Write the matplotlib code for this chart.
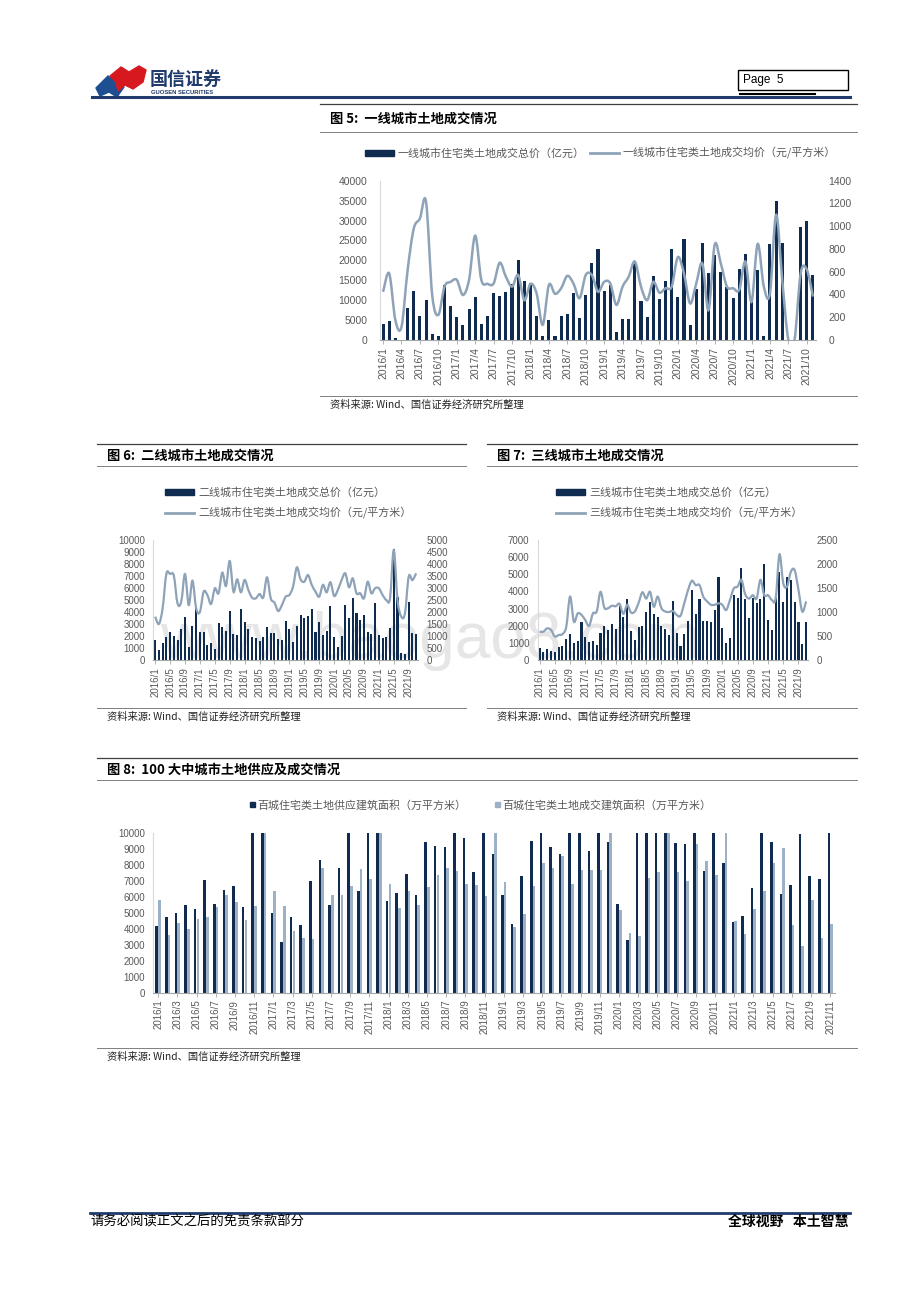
import numpy as np
import matplotlib
matplotlib.use("Agg")
import matplotlib.pyplot as plt
from matplotlib.path import Path
from matplotlib.patches import PathPatch, Rectangle, Polygon

plt.rcParams['font.family'] = ['Noto Sans CJK SC', 'DejaVu Sans']

W, H = 920, 1302
NAVY = '#0f2b50'
LINE = '#8ea3b8'
LIGHT = '#9db1c6'
TXT = '#595959'
NUM = 'Liberation Sans'

# month categories 2016/1 .. 2021/11
months = [f"{y}/{m}" for y in range(2016, 2022) for m in range(1, 13)][:71]

# 图5 一线城市
tier1_total = [140, 165, 18, 0, 280, 430, 210, 350, 52, 32,
               480, 298, 203, 130, 273, 378, 144, 210, 413, 389,
               420, 490, 704, 522, 500, 207, 35, 175, 32, 210,
               228, 413, 193, 392, 674, 800, 430, 483, 73, 182,
               182, 688, 343, 202, 565, 363, 518, 800, 378, 885,
               129, 448, 850, 592, 744, 595, 466, 366, 624, 756,
               366, 615, 35, 846, 1221, 852, 0, 0, 996, 1049, 568]
tier1_price = [12100, 16700, 5000, 3300, 17600, 28000, 30500, 34700, 11300, 6300,
               13400, 14600, 15100, 11300, 15100, 26200, 15100, 14100, 14200, 19400,
               15900, 13400, 16300, 10000, 14100, 11700, 3800, 13800, 11600, 13000,
               16100, 14200, 10500, 16300, 16300, 12100, 14600, 14200, 8800, 13400,
               15900, 19700, 13400, 10000, 14600, 11900, 13000, 13400, 20800, 16700,
               9200, 14200, 19200, 7500, 23900, 19200, 13400, 13000, 12600, 19700,
               9600, 24100, 13400, 11700, 31400, 15100, 0, 0, 16700, 17700, 10900]

# 图6 二线城市
tier2_total = [1640, 860, 1390, 1920, 2330, 2000, 1690, 2560, 3580, 1110,
               2830, 4530, 2310, 2310, 1280, 1390, 890, 3060, 2780, 2440,
               4080, 2190, 2110, 4220, 3170, 2580, 1940, 1810, 1610, 1890,
               2750, 2220, 2220, 1720, 1670, 3220, 2560, 1530, 2860, 3750,
               3530, 3640, 4220, 2360, 3190, 2080, 2420, 4470, 1940, 1110,
               2000, 4580, 3530, 5190, 3920, 3360, 3750, 2310, 2170, 4720,
               2060, 1860, 1920, 2690, 9220, 5220, 610, 530, 4810, 2250, 2140]
tier2_price = [1805, 1500, 2155, 3585, 3585, 3515, 2360, 2430, 3585, 2290,
               3305, 2155, 2000, 2845, 2710, 2335, 2985, 2780, 3640, 3085,
               4125, 2845, 3360, 2820, 3335, 2915, 2595, 2570, 2750, 2610,
               3445, 2570, 2390, 2040, 2290, 2640, 2710, 3060, 3860, 3360,
               3260, 3540, 3130, 2850, 2640, 3130, 2820, 3240, 2670, 2920,
               3330, 3610, 3030, 3400, 2780, 2780, 2570, 3260, 2780, 2990,
               2990, 2710, 2500, 2570, 4580, 2500, 1810, 1940, 3470, 3330, 3610]

# 图7 三线城市
tier3_total = [720, 490, 620, 525, 490, 780, 820, 1210, 1520, 1010,
               1130, 2200, 1360, 1070, 1110, 875, 1560, 1980, 1750, 2100,
               1810, 3170, 2530, 3560, 1690, 1170, 1940, 2000, 2800, 3400,
               2680, 2530, 1980, 1810, 1460, 3460, 1590, 820, 1500, 2270,
               4060, 2660, 3560, 2270, 2270, 2200, 2900, 4840, 1890, 970,
               1300, 3790, 3640, 5350, 3560, 2430, 3640, 3320, 3540, 5580,
               2330, 1730, 3600, 5150, 3400, 4820, 4670, 3400, 2200, 950, 2240]
tier3_price = [590, 590, 660, 625, 490, 520, 540, 690, 1320, 800,
               970, 940, 830, 710, 970, 1010, 1420, 1090, 1080, 1130,
               1120, 1170, 960, 1150, 990, 1010, 1190, 1410, 1280, 1420,
               1110, 1320, 1080, 1010, 1000, 1020, 940, 920, 1180, 1460,
               1650, 1560, 1560, 1320, 1220, 1150, 1150, 1180, 1150, 1040,
               1250, 1490, 1530, 1670, 1370, 1280, 1350, 1280, 1670, 1350,
               1350, 1250, 1280, 2200, 1600, 1530, 1840, 1870, 1460, 1010, 1220]

# 图8 百城 (values above 10000 are cut off by the axis)
supply100 = [4180, 4750, 5000, 5500, 5250, 7100, 5550, 6450, 6700, 5350,
             12500, 16000, 5000, 3200, 4750, 4250, 7000, 8300, 5500, 7800,
             11200, 6400, 10900, 15000, 5770, 6280, 7430, 6130, 9440, 9230,
             9120, 10600, 9730, 7570, 11800, 8700, 6110, 4310, 7300, 9540,
             10400, 9120, 8680, 10300, 12600, 8890, 10800, 9460, 5540, 3280,
             10500, 11900, 11300, 13500, 9370, 9310, 10700, 7660, 11100, 8140,
             4440, 4830, 6590, 10200, 9440, 6170, 6760, 9960, 7300, 7150, 11400]
deal100 = [5800, 3600, 4400, 4000, 4650, 4750, 5350, 6150, 5700, 4550,
           5450, 12000, 6400, 5450, 3850, 3450, 3350, 7800, 6150, 6150,
           6700, 7780, 7130, 10800, 6800, 5310, 6380, 5520, 6610, 7360,
           7820, 7610, 6820, 6760, 6070, 10500, 6950, 4140, 4940, 6690,
           8160, 7800, 8600, 6800, 7700, 7700, 7680, 10900, 5170, 3770,
           3580, 7220, 7550, 11000, 7550, 7010, 9350, 8260, 7360, 10300,
           4500, 3680, 5270, 6400, 8140, 9080, 4230, 2950, 5820, 3430, 4290]

fig = plt.figure(figsize=(9.2, 13.02), dpi=100)
page = fig.add_axes([0, 0, 1, 1])
page.set_xlim(0, W)
page.set_ylim(H, 0)
page.axis('off')


def box(x0, y0, x1, y1):
    return [x0 / W, 1 - y1 / H, (x1 - x0) / W, (y1 - y0) / H]


def smooth(ax, x, y, **kw):
    # excel-like smoothed line, drawn as bezier path in data coords
    pts = np.column_stack([np.asarray(x, float), np.asarray(y, float)])
    n = len(pts)
    verts = [pts[0]]
    codes = [Path.MOVETO]
    for i in range(n - 1):
        p0 = pts[max(i - 1, 0)]
        p1 = pts[i]
        p2 = pts[i + 1]
        p3 = pts[min(i + 2, n - 1)]
        verts += [p1 + (p2 - p0) / 6, p2 - (p3 - p1) / 6, p2]
        codes += [Path.CURVE4] * 3
    ax.add_patch(PathPatch(Path(verts, codes), fill=False, **kw))


def style(ax, step, fs=7, ypad=6):
    ax.set_facecolor('none')
    for s in ['top', 'right']:
        ax.spines[s].set_visible(False)
    ax.spines['left'].set_color('#d9d9d9')
    ax.spines['bottom'].set_color('#a6a6a6')
    ax.spines['left'].set_linewidth(0.8)
    ax.spines['bottom'].set_linewidth(0.8)
    ax.set_xlim(-0.5, len(months) - 0.5)
    idx = list(range(0, len(months), step))
    ax.set_xticks(idx, [months[i] for i in idx], rotation=90, fontsize=fs,
                  fontfamily=NUM, color=TXT)
    ax.tick_params(axis='x', length=3, width=0.6, color='#a6a6a6', pad=2)
    ax.tick_params(axis='y', length=0, pad=ypad)


def yticks(ax, vals, fs=7):
    ax.set_yticks(vals, [str(v) for v in vals], fontsize=fs, fontfamily=NUM, color=TXT)
    ax.set_ylim(vals[0], vals[-1])


def twin(ax, pad=6):
    a = ax.twinx()
    for s in a.spines.values():
        s.set_visible(False)
    a.tick_params(axis='y', length=0, pad=pad)
    return a


x = np.arange(len(months))

# ---------- 图5 ----------
ax5 = fig.add_axes(box(380, 180.7, 816, 340))
style(ax5, 3, fs=7.5, ypad=9)
ax5b = twin(ax5, pad=9)
ax5b.bar(x, tier1_total, width=0.5, color=NAVY)
yticks(ax5b, list(range(0, 1401, 200)), fs=7.5)
smooth(ax5, x, tier1_price, color=LINE, lw=1.8)
yticks(ax5, list(range(0, 40001, 5000)), fs=7.5)
ax5.set_zorder(ax5b.get_zorder() + 1)
ax5.patch.set_visible(False)

# ---------- 图6 ----------
ax6 = fig.add_axes(box(153.3, 540, 418, 660))
style(ax6, 4)
ax6.bar(x, tier2_total, width=0.55, color=NAVY)
yticks(ax6, list(range(0, 10001, 1000)))
ax6b = twin(ax6)
smooth(ax6b, x, tier2_price, color=LINE, lw=1.6)
yticks(ax6b, list(range(0, 5001, 500)))

# ---------- 图7 ----------
ax7 = fig.add_axes(box(537.7, 540, 808, 660))
style(ax7, 4)
ax7.bar(x, tier3_total, width=0.55, color=NAVY)
yticks(ax7, list(range(0, 7001, 1000)))
ax7b = twin(ax7)
smooth(ax7b, x, tier3_price, color=LINE, lw=1.6)
yticks(ax7b, list(range(0, 2501, 500)))

# ---------- 图8 ----------
ax8 = fig.add_axes(box(153.3, 833.3, 835, 992.7))
style(ax8, 2)
ax8.bar(x - 0.14, supply100, width=0.27, color=NAVY)
ax8.bar(x + 0.14, deal100, width=0.27, color=LIGHT)
yticks(ax8, list(range(0, 10001, 1000)))

# ---------- page decorations ----------
page.text(430, 658, 'www.baogao8.com', fontsize=46, color='#e6e6e6',
          fontfamily=NUM, ha='center', va='baseline', zorder=0)

# header
page.add_patch(Polygon([(96, 88), (108, 76), (116, 82), (124, 87), (117, 97), (109, 92), (100, 96)],
                       closed=True, color='#1d4f91'))
page.add_patch(Polygon([(110, 76), (121, 67), (129, 72), (139, 66), (146, 70), (143, 82),
                        (133, 89), (125, 85), (118, 91), (116, 82)],
                       closed=True, color='#d7191f'))
page.text(150, 79, '国信证券', fontsize=13, fontweight='bold', color='#1f3a6b', va='center')
page.text(151, 92, 'GUOSEN SECURITIES', fontsize=4.2, fontweight='bold', color='#1f3a6b',
          va='center', fontfamily=NUM)
page.add_patch(Rectangle((738, 70), 110, 20, fill=False, ec='black', lw=1))
page.text(743, 80.5, 'Page  5', fontsize=8.5, fontfamily=NUM, va='center')
page.plot([740, 815], [93.5, 93.5], color='black', lw=1.5)
page.plot([92, 850], [96.5, 96.5], color='#1f3a6b', lw=2.2)

# section rules, titles, sources
blocks = [
    (320, 857, 104, 132, 396, '图 5:  一线城市土地成交情况'),
    (97, 466, 444, 466, 708, '图 6:  二线城市土地成交情况'),
    (487, 857, 444, 466, 708, '图 7:  三线城市土地成交情况'),
    (97, 857, 758, 780, 1048, '图 8:  100 大中城市土地供应及成交情况'),
]
for x0, x1, ytop, ymid, ysrc, title in blocks:
    page.plot([x0, x1], [ytop, ytop], color='#404040', lw=0.9)
    page.plot([x0, x1], [ymid, ymid], color='#808080', lw=0.7)
    page.plot([x0, x1], [ysrc, ysrc], color='#808080', lw=0.7)
    page.text(x0 + 10, (ytop + ymid) / 2 + 0.5, title, fontsize=9.5, fontweight='bold',
              va='center', color='black')
    page.text(x0 + 10, ysrc + 9, '资料来源: Wind、国信证券经济研究所整理', fontsize=7.4,
              va='center', color='#222222')

# legends
def leg_bar(xb, y, label, c=NAVY):
    page.add_patch(Rectangle((xb, y - 2.8), 29, 5.6, color=c))
    page.text(xb + 33, y, label, fontsize=7.9, color=TXT, va='center')


def leg_line(xb, y, label):
    page.plot([xb, xb + 29], [y, y], color=LINE, lw=2)
    page.text(xb + 33, y, label, fontsize=7.9, color=TXT, va='center')


leg_bar(365, 153, '一线城市住宅类土地成交总价（亿元）')
leg_line(590, 153, '一线城市住宅类土地成交均价（元/平方米）')
leg_bar(165, 492, '二线城市住宅类土地成交总价（亿元）')
leg_line(165, 513, '二线城市住宅类土地成交均价（元/平方米）')
leg_bar(556, 492, '三线城市住宅类土地成交总价（亿元）')
leg_line(556, 513, '三线城市住宅类土地成交均价（元/平方米）')

page.add_patch(Rectangle((250, 802), 5, 5, color=NAVY))
page.text(257, 805, '百城住宅类土地供应建筑面积（万平方米）', fontsize=7.9, color=TXT, va='center')
page.add_patch(Rectangle((495, 802), 5, 5, color=LIGHT))
page.text(502, 805, '百城住宅类土地成交建筑面积（万平方米）', fontsize=7.9, color=TXT, va='center')

# footer
page.plot([90, 850], [1213, 1213], color='#1f3a6b', lw=2)
page.text(90, 1222, '请务必阅读正文之后的免责条款部分', fontsize=9.6, va='center', color='black')
page.text(848, 1222, '全球视野   本土智慧', fontsize=10, fontweight='bold', va='center',
          ha='right', color='black')

fig.savefig('out.png', dpi=100)
